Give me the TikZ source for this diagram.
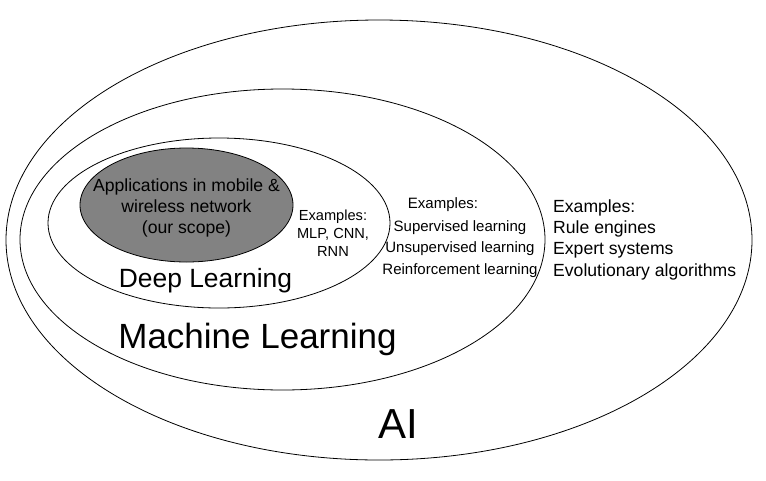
\documentclass[tikz,border=0pt]{standalone}
\usepackage{fontspec}
\setmainfont{Liberation Sans}
\usetikzlibrary{shapes.geometric}

\begin{document}
\begin{tikzpicture}[
  x=1pt, y=-1pt,
  capa/.style={ellipse, draw, line width=0.8pt, inner sep=0pt},
  txt/.style={inner sep=0pt, align=center},
  small/.style={txt, font=\fontsize{14.6}{18}\selectfont},
  mid/.style={txt, font=\fontsize{15}{21.5}\selectfont},
  big/.style={txt, font=\fontsize{17.6}{21.3}\selectfont},
]
\useasboundingbox (0,0) rectangle (766,480);
% Elipses anidadas
\node[capa, minimum width=746pt, minimum height=440pt] (ai) at (379,240) {};
\node[capa, minimum width=525pt, minimum height=301pt] (ml) at (282.5,239.5) {};
\node[capa, minimum width=342pt, minimum height=170pt] (dl) at (219,223) {};
\node[capa, fill=gray!98, minimum width=213pt, minimum height=114pt] (scope) at (186.5,205) {};
% Textos interiores
\node[big] (scopetxt) at (186.5,208) {Applications in mobile \&\\wireless network\\(our scope)};
\node[small] (dlex) at (333,233) {Examples:\\MLP, CNN,\\RNN};
\node[txt, font=\fontsize{26.4}{30}\selectfont, anchor=base] (dlname) at (205.5,287) {Deep Learning};
% Ejemplos de ML
\node[mid] (mlexhead) at (443,205) {Examples:};
\node[mid] (mlex) at (460,249) {Supervised learning\\Unsupervised learning\\Reinforcement learning};
\node[txt, font=\fontsize{35}{40}\selectfont, anchor=base] (mlname) at (257.5,348) {Machine Learning};
% Ejemplos de AI
\node[big, align=left, anchor=west] (aiex) at (553,239.5) {Examples:\\Rule engines\\Expert systems\\Evolutionary algorithms};
\node[txt, font=\fontsize{42}{48}\selectfont, anchor=base] (ainame) at (398,438) {AI};
\end{tikzpicture}
\end{document}
